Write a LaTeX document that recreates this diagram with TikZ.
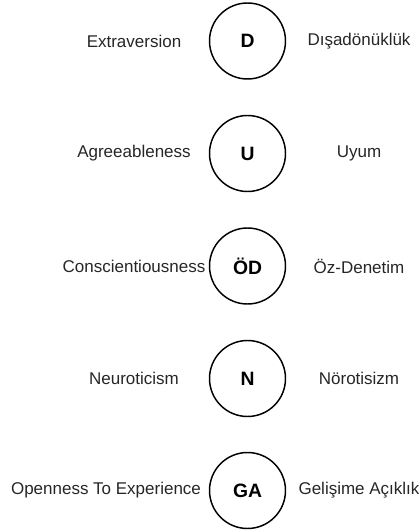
\documentclass[tikz,border=0pt]{standalone}
\usepackage{fontspec}
\setmainfont{Liberation Sans}
\usetikzlibrary{positioning}

\tikzset{
    trait/.style={circle,draw,line width=1.1pt,minimum size=57pt,inner sep=0pt,font=\fontsize{14.5}{17}\selectfont\bfseries},
    label/.style={inner sep=0pt,font=\fontsize{12.75}{15}\selectfont,text=black!85}
}

\begin{document}
\begin{tikzpicture}[x=0.75pt,y=-0.75pt]
    \useasboundingbox (0,0) rectangle (418,530);
    \foreach \n/\y/\ab/\ex/\en/\tr in {1/41/D/134/Extraversion/Dışadönüklük,
        2/153.5/U/134/Agreeableness/Uyum,
        3/266/ÖD/134/Conscientiousness/Öz-Denetim,
        4/378.5/N/134/Neuroticism/Nörotisizm,
        5/490.5/GA/106/Openness To Experience/Gelişime Açıklık}
    {
        \node[trait] (c\n) at (247.5,\y) {\ab};
        \node[label] (en\n) at (\ex,\y) {\en};
        \node[label] (tr\n) at (359,\y) {\tr};
    }
\end{tikzpicture}
\end{document}
